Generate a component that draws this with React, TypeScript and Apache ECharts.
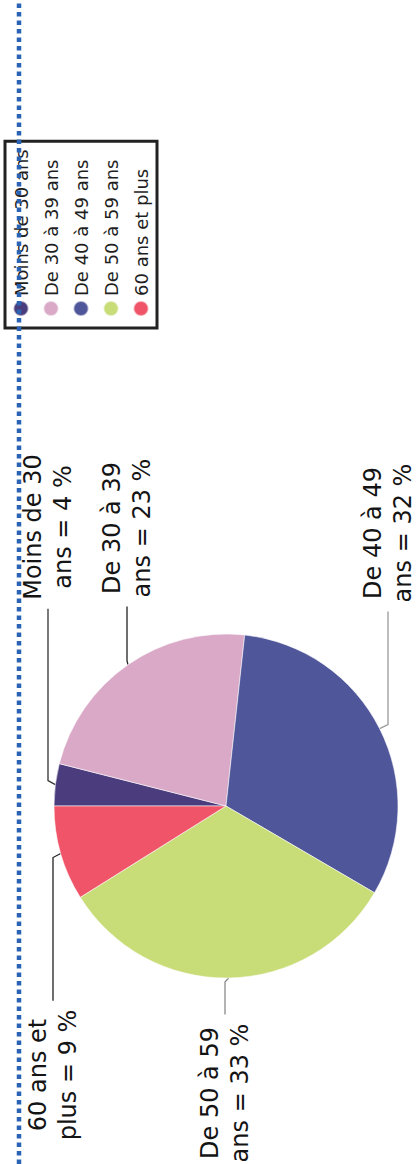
import React, { useEffect, useRef } from "react";
import * as echarts from "echarts";

// ---- data ----
const categories = [
  "Moins de 30 ans",
  "De 30 à 39 ans",
  "De 40 à 49 ans",
  "De 50 à 59 ans",
  "60 ans et plus",
];
const shares = [4, 23, 32, 33, 9];

// ---- styles / layout (kept apart from the data) ----
const sliceColors = ["#4b3d7d", "#d9a9c7", "#50569a", "#c8dc78", "#f05468"];
const leaderColors = ["#333333", "#222222", "#9a9a9a", "#8a8a8a", "#222222"];
// label block centres in the unrotated 1164x416 frame
const labelCentres: [number, number][] = [
  [637, 48],
  [636, 127],
  [631, 388],
  [71, 225],
  [89, 53],
];

const W = 1164;
const H = 416;
const FONT = "DejaVu Sans";

function labelText(name: string, value: number) {
  const i = name.lastIndexOf(" ");
  return name.slice(0, i) + "\n" + name.slice(i + 1) + " = " + value + " %";
}

export default function App() {
  const ref = useRef<HTMLDivElement | null>(null);

  useEffect(() => {
    if (!ref.current) return;
    const chart = echarts.init(ref.current, undefined, { renderer: "svg" });
    chart.setOption({
      animation: false,
      backgroundColor: "#ffffff",
      legend: {
        orient: "vertical",
        left: 836,
        top: 5,
        data: categories,
        icon: "circle",
        itemWidth: 15,
        itemHeight: 15,
        itemGap: 12,
        padding: [7, 8, 7, 11],
        borderColor: "#222222",
        borderWidth: 3,
        borderRadius: 0,
        selectedMode: false,
        textStyle: {
          fontFamily: FONT,
          fontSize: 18,
          color: "#1e1e1e",
          lineHeight: 18,
        },
      },
      series: [
        {
          type: "pie",
          center: [358, 226],
          radius: 172,
          startAngle: 90,
          clockwise: true,
          avoidLabelOverlap: false,
          emphasis: { disabled: true },
          data: categories.map((name, i) => ({
            name,
            value: shares[i],
            itemStyle: { color: sliceColors[i] },
            labelLine: { lineStyle: { color: leaderColors[i] } },
          })),
          itemStyle: { borderColor: "rgba(255,255,255,0.55)", borderWidth: 1 },
          label: {
            show: true,
            position: "outside",
            formatter: (p: any) => labelText(p.name, p.value),
            fontFamily: FONT,
            fontSize: 24,
            lineHeight: 30,
            color: "#141414",
            align: "center",
          },
          labelLine: {
            show: true,
            length: 10,
            length2: 10,
            lineStyle: { width: 1.3 },
          },
          labelLayout: (params: any) => {
            const i = params.dataIndex;
            const [cx, cy] = labelCentres[i];
            const w = params.labelRect.width;
            const pts = params.labelLinePoints;
            const start = pts && pts[0] ? pts[0] : [358, 226];
            const dir = cx > start[0] ? 1 : -1;
            const endX = dir > 0 ? cx - w / 2 - 9 : cx + w / 2 + 9;
            return {
              x: cx,
              y: cy,
              align: "center",
              verticalAlign: "middle",
              labelLinePoints: [
                [start[0], start[1]],
                [start[0] + 4 * dir, cy],
                [endX, cy],
              ],
            };
          },
        },
      ],
      graphic: [
        {
          type: "line",
          z: 100,
          shape: { x1: 0, y1: 19, x2: W, y2: 19 },
          style: { stroke: "#2a63b4", lineWidth: 4.5, lineDash: [4.5, 4] },
        },
      ],
    });
    return () => chart.dispose();
  }, []);

  return (
    <div
      style={{
        position: "absolute",
        left: 0,
        top: 0,
        width: 416,
        height: 1164,
        overflow: "hidden",
        background: "#ffffff",
      }}
    >
      <div
        ref={ref}
        style={{
          position: "absolute",
          left: 0,
          top: 0,
          width: W,
          height: H,
          transformOrigin: "0 0",
          transform: `translate(0px, ${W}px) rotate(-90deg)`,
        }}
      />
    </div>
  );
}
